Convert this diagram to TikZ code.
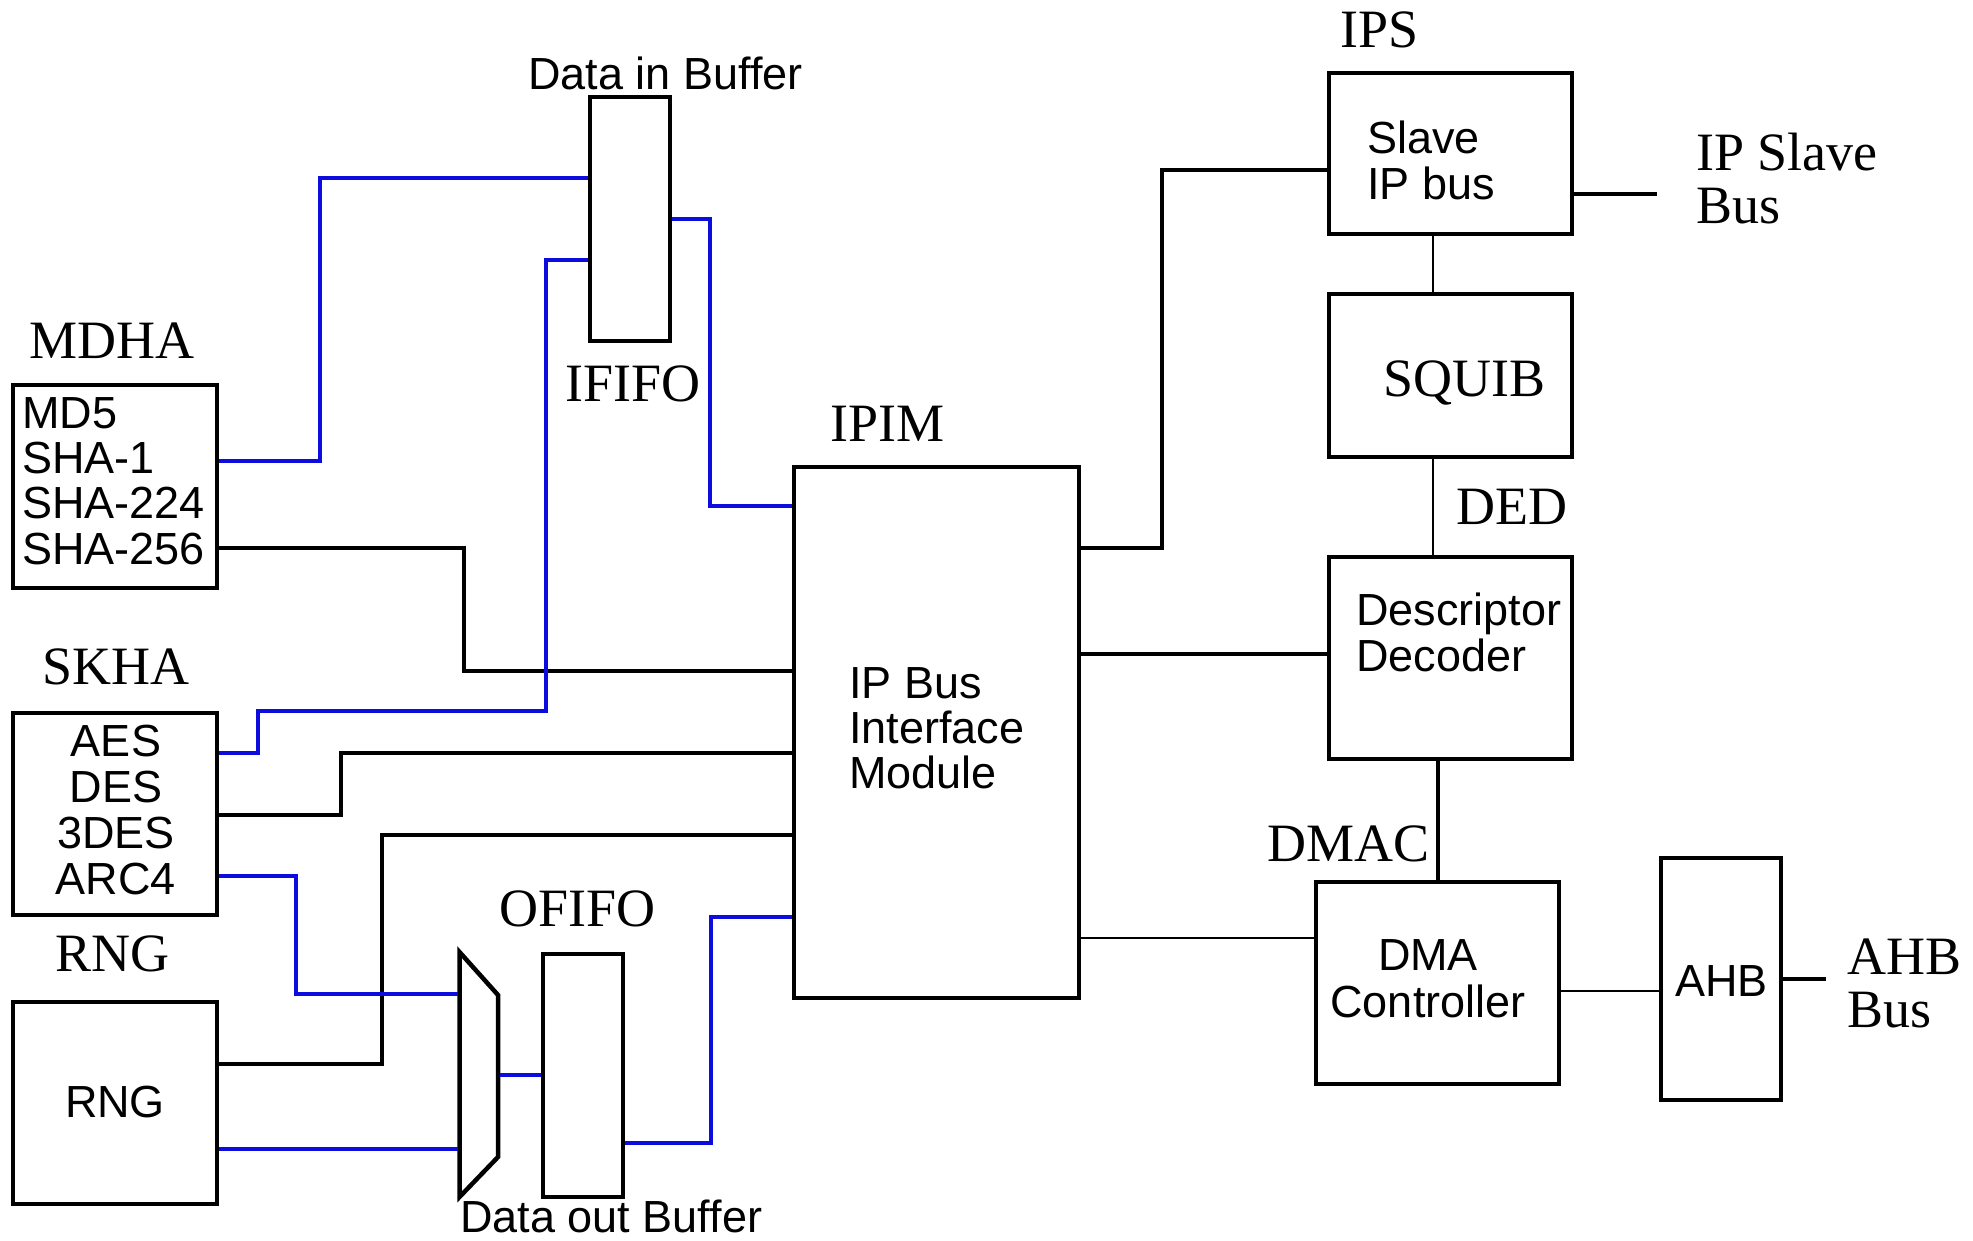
\documentclass[tikz,border=0pt]{standalone}
\usepackage{fontspec}
\setmainfont{Liberation Serif}
\setsansfont{Liberation Sans}
\usetikzlibrary{fit}
\definecolor{wireblue}{RGB}{12,12,222}
\begin{document}
\begin{tikzpicture}[x=1pt,y=-1pt,
  box/.style={draw, line width=4.5pt, inner sep=0pt},
  bw/.style={draw=wireblue, line width=4pt},
  kw/.style={draw=black, line width=4.5pt},
  tw/.style={draw=black, line width=2.2pt},
  mw/.style={draw=black, line width=3.5pt},
  lab/.style={font=\rmfamily\fontsize{54}{53}\selectfont, inner sep=0pt},
  txt/.style={font=\sffamily\fontsize{45}{46}\selectfont, inner sep=0pt},
]
\useasboundingbox[fill=white] (0,0) rectangle (1973,1240);

% boxes
\node[box, fit={(13,385) (217,588)}] (mdha) {};
\node[box, fit={(590,97) (670,341)}] (ififo) {};
\node[box, fit={(13,713) (217,915)}] (skha) {};
\node[box, fit={(13,1002) (217,1204)}] (rng) {};
\node[box, fit={(543,954) (623,1197)}] (ofifo) {};
\node[box, fit={(794,467) (1079,998)}] (ipim) {};
\node[box, fit={(1329,73) (1572,234)}] (ips) {};
\node[box, fit={(1329,294) (1572,457)}] (squib) {};
\node[box, fit={(1329,557) (1572,759)}] (dd) {};
\node[box, fit={(1316,882) (1559,1084)}] (dma) {};
\node[box, fit={(1661,858) (1781,1100)}] (ahb) {};

% multiplexer
\coordinate (muxtl) at (459.5,952);
\coordinate (muxtr) at (498,995);
\coordinate (muxbr) at (498,1157);
\coordinate (muxbl) at (459.5,1197);
\draw[line width=4.5pt] (muxtl) -- (muxtr) -- (muxbr) -- (muxbl) -- cycle;
\coordinate (muxa) at (457.5,994);
\coordinate (muxb) at (457.5,1149);
\coordinate (muxo) at (500,1075);

% free ends
\coordinate (ipsbus) at (1657,194);
\coordinate (ahbbus) at (1826,979);

% black connectors
\draw[kw] (mdha.east |- 0,548) -- (464,548) -- (464,671) -- (ipim.west |- 0,671);
\draw[kw] (skha.east |- 0,815) -- (341,815) -- (341,753) -- (ipim.west |- 0,753);
\draw[kw] (rng.east |- 0,1064) -- (382,1064) -- (382,835) -- (ipim.west |- 0,835);
\draw[kw] (ipim.east |- 0,548) -- (1162,548) -- (1162,170) -- (ips.west |- 0,170);
\draw[kw] (ipim.east |- 0,654) -- (dd.west |- 0,654);
\draw[kw] (ips.east |- 0,194) -- (ipsbus);
\draw[kw] (ahb.east |- 0,979) -- (ahbbus);
\draw[mw] (dd.south -| 1438,0) -- (dma.north -| 1438,0);
\draw[tw] (ips.south -| 1433,0) -- (squib.north -| 1433,0);
\draw[tw] (squib.south -| 1433,0) -- (dd.north -| 1433,0);
\draw[tw] (ipim.east |- 0,938) -- (dma.west |- 0,938);
\draw[tw] (dma.east |- 0,991) -- (ahb.west |- 0,991);

% blue connectors
\draw[bw] (mdha.east |- 0,461) -- (320,461) -- (320,178) -- (ififo.west |- 0,178);
\draw[bw] (ififo.east |- 0,219) -- (710,219) -- (710,506) -- (ipim.west |- 0,506);
\draw[bw] (ififo.west |- 0,260) -- (546,260) -- (546,711) -- (258,711) -- (258,753) -- (skha.east |- 0,753);
\draw[bw] (skha.east |- 0,876) -- (296,876) -- (296,994) -- (muxa);
\draw[bw] (rng.east |- 0,1149) -- (muxb);
\draw[bw] (muxo) -- (ofifo.west |- 0,1075);
\draw[bw] (ofifo.east |- 0,1143) -- (711,1143) -- (711,917) -- (ipim.west |- 0,917);

% labels
\node[lab, anchor=base west] (tmdha) at (29,358) {MDHA};
\node[txt, anchor=base west] (tdib) at (528,89) {Data in Buffer};
\node[lab, anchor=base west] (tififo) at (565,401) {IFIFO};
\node[lab, anchor=base west] (tskha) at (42,684) {SKHA};
\node[lab, anchor=base west] (trngl) at (55,971) {RNG};
\node[lab, anchor=base west] (tofifo) at (499,926) {OFIFO};
\node[txt, anchor=base west] (tdob) at (460,1232) {Data out Buffer};
\node[lab, anchor=base west] (tipim) at (830,441) {IPIM};
\node[lab, anchor=base west] (tips) at (1340,47) {IPS};
\node[lab, anchor=base west] (tded) at (1456,524) {DED};
\node[lab, anchor=base west] (tdmac) at (1267,861) {DMAC};
\node[lab, anchor=north west, align=left] (tipsb) at (1696,133) {IP Slave\\Bus};
\node[lab, anchor=north west, align=left] (tahbb) at (1847,939) {AHB\\Bus};

% box texts
\node[txt, anchor=north west, align=left, font=\sffamily\fontsize{45}{45.3}\selectfont] (tmd) at (22,397) {MD5\\SHA-1\\SHA-224\\SHA-256};
\node[txt, anchor=north, align=center] (tsk) at (116,724.5) {AES\\DES\\3DES\\ARC4};
\node[txt, anchor=base] (trng) at (115,1117) {RNG};
\node[txt, anchor=north west, align=left, font=\sffamily\fontsize{45}{45}\selectfont] (tipimt) at (849,667) {IP Bus\\Interface\\Module};
\node[txt, anchor=north west, align=left] (tipst) at (1367,121) {Slave\\IP bus};
\node[lab, anchor=base west] (tsq) at (1383,396) {SQUIB};
\node[txt, anchor=north west, align=left] (tddt) at (1356,593) {Descriptor\\Decoder};
\node[txt, anchor=north, align=center, font=\sffamily\fontsize{45}{47}\selectfont] (tdmat) at (1428,939) {DMA\\Controller};
\node[txt, anchor=base west] (tahbt) at (1675,996) {AHB};
\end{tikzpicture}
\end{document}
